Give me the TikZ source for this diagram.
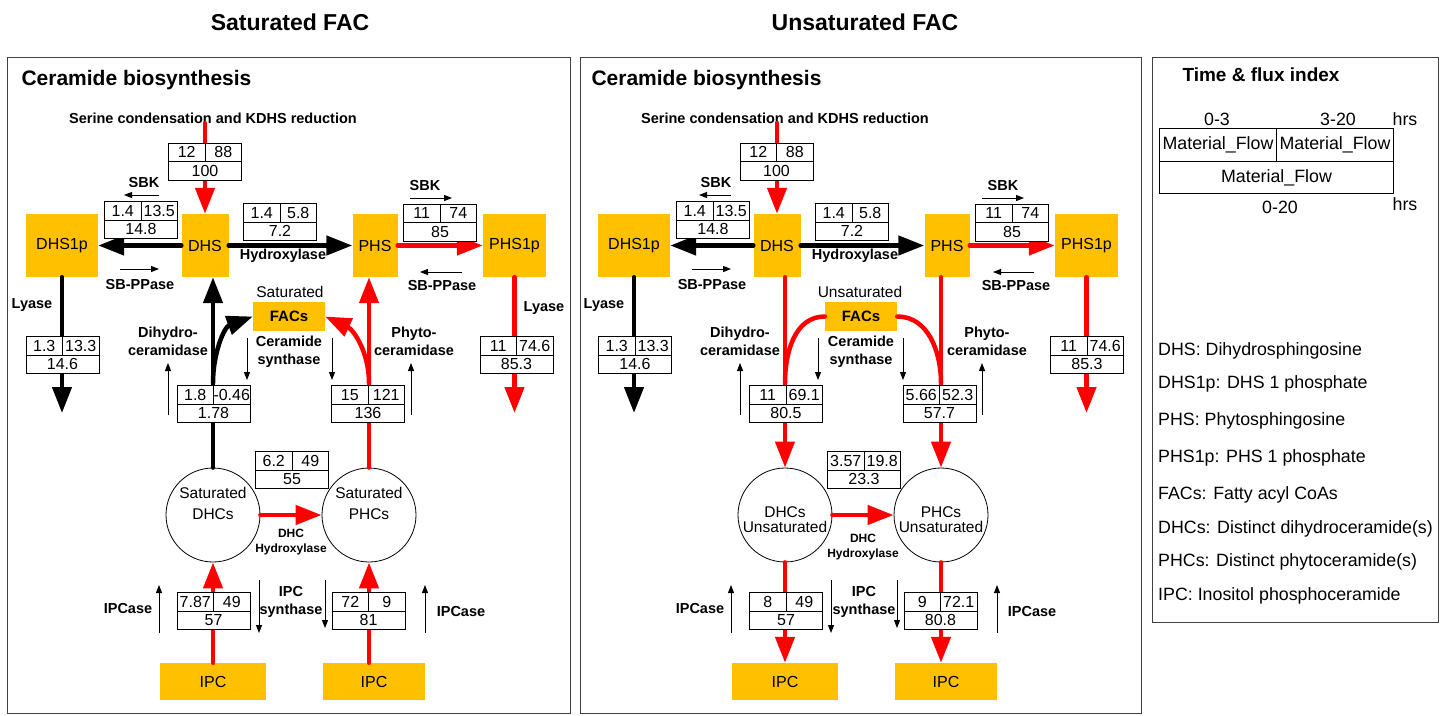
\documentclass[tikz,border=0pt]{standalone}
\usepackage{fontspec}
\setmainfont{Liberation Sans}
\usetikzlibrary{arrows.meta}
\definecolor{amber}{RGB}{255,192,0}

% flux box: name, centre x, centre y, left, right, total
\newcommand{\fluxbox}[6]{%
  \node[cell] (#1a) at ({#2-18.25},{#3-9.25}) {#4};
  \node[cell] (#1b) at ({#2+18.25},{#3-9.25}) {#5};
  \node[cell, minimum width=73pt] (#1c) at (#2,{#3+9.25}) {#6};
}

\begin{document}
\begin{tikzpicture}[x=1pt, y=-1pt,
  pool/.style={fill=amber, inner sep=0pt, font=\fontsize{16}{19}\selectfont},
  cell/.style={draw, fill=white, line width=0.8pt, minimum width=36.5pt, minimum height=18.5pt, inner sep=0pt, font=\fontsize{16}{19}\selectfont},
  lcell/.style={draw, line width=0.8pt, minimum width=117pt, minimum height=32.5pt, inner sep=0pt, font=\fontsize{17.8}{20}\selectfont},
  pot/.style={circle, draw, line width=0.8pt, minimum size=94pt, inner sep=0pt},
  lab/.style={font=\bfseries\fontsize{14.5}{18}\selectfont, align=center, inner sep=0pt},
  txt/.style={font=\fontsize{15.5}{21}\selectfont, align=center, inner sep=0pt},
  legt/.style={font=\fontsize{17.8}{20}\selectfont, inner sep=0pt},
  bigk/.style={line width=4.5pt, black, line cap=round, -{Triangle[length=26pt,width=19pt]}},
  bigr/.style={bigk, red},
  hint/.style={line width=1pt, -{Triangle[length=8pt,width=6pt]}},
  panel/.style={draw=black!75, line width=1pt}]
\useasboundingbox (0,0) rectangle (1445,715);

\node[font=\bfseries\fontsize{23}{23}\selectfont] (tSat) at (290,22) {Saturated FAC};
\node[font=\bfseries\fontsize{23}{23}\selectfont] (tUns) at (865,22) {Unsaturated FAC};
\draw[panel] (7,57) rectangle (570,713);  % saturated panel
\draw[panel] (580,57) rectangle (1141,713);  % unsaturated panel
\draw[panel] (1152,57) rectangle (1438,622);  % legend panel

% ---- saturated FAC ----
\node[font=\bfseries\fontsize{21}{21}\selectfont, anchor=west] (sHead) at (18,80) {Ceramide biosynthesis};
\node[lab] (sSer) at (213,118) {Serine condensation and KDHS reduction};
\node[pool, minimum width=72pt, minimum height=63pt] (sDHS1p) at (62,245.5) {DHS1p};
\node[pool, minimum width=47pt, minimum height=63pt] (sDHS) at (205,245.5) {DHS};
\node[pool, minimum width=45pt, minimum height=63pt] (sPHS) at (375,245.5) {PHS};
\node[pool, minimum width=63pt, minimum height=63pt] (sPHS1p) at (514.5,245.5) {PHS1p};
\node[pool, minimum width=72pt, minimum height=29pt, font=\bfseries\fontsize{15}{15}\selectfont] (sFAC) at (289,316.5) {FACs};
\node[pot] (sDHC) at (213,515) {};
\node[pot] (sPHC) at (369,515) {};
\node[txt] (sDHCt) at (213,503) {Saturated\\DHCs};
\node[txt] (sPHCt) at (369,503) {Saturated\\PHCs};
\node[pool, minimum width=106pt, minimum height=37pt] (sIPC1) at (213,681.5) {IPC};
\node[pool, minimum width=102pt, minimum height=37pt] (sIPC2) at (374,681.5) {IPC};
\coordinate (sSrc) at (205,123);
\coordinate (sLy1) at (62,413);
\coordinate (sLy2) at (514.5,413);
\coordinate (sCv1) at (213,383);
\coordinate (sCv2) at (369,383);

\draw[bigr] (sSrc) -- (sDHS.north);
\draw[bigk] (sDHS.west) -- (sDHS1p.east);
\draw[bigk] (sDHS.east) -- (sPHS.west);
\draw[bigr] (sPHS.east) -- (sPHS1p.west);
\draw[bigk] (sDHS1p.south) -- (sLy1);  % lyase
\draw[bigr] (sPHS1p.south) -- (sLy2);
\draw[bigk] (sDHC.north) -- (sDHC.north |- sDHS.south);
\draw[bigr] (sPHC.north) -- (sPHC.north |- sPHS.south);
\draw[bigk] (sCv1) to[out=90,in=200] (sFAC.west);
\draw[bigr] (sCv2) to[out=90,in=-25] (sFAC.east);
\draw[bigr] (sDHC.east) -- (sPHC.west);
\draw[bigr] (sIPC1.north) -- (sDHC.south);
\draw[bigr] (sIPC2.north -| sPHC.south) -- (sPHC.south);

\fluxbox{sF1}{205}{161.5}{12}{88}{100}
\fluxbox{sF2}{141}{220}{1.4}{13.5}{14.8}
\fluxbox{sF3}{280}{222}{1.4}{5.8}{7.2}
\fluxbox{sF4}{440}{222.5}{11}{74}{85}
\fluxbox{sF5}{62.5}{355}{1.3}{13.3}{14.6}
\fluxbox{sF6}{516.5}{355}{11}{74.6}{85.3}
\fluxbox{sF7}{213.5}{404}{1.8}{-0.46}{1.78}
\fluxbox{sF8}{368}{404}{15}{121}{136}
\fluxbox{sF9}{292}{470}{6.2}{49}{55}
\fluxbox{sF10}{213.5}{611}{7.87}{49}{57}
\fluxbox{sF11}{368.5}{611}{72}{9}{81}

\node[lab] (sSbk1) at (144,183) {SBK};
\node[lab] (sPp1) at (140,285) {SB-PPase};
\node[lab] (sSbk2) at (425,186) {SBK};
\node[lab] (sPp2) at (442,286) {SB-PPase};
\node[lab] (sHyd) at (283,256) {Hydroxylase};
\node[lab] (sLya1) at (32,305) {Lyase};
\node[lab] (sLya2) at (544,308) {Lyase};
\node[txt] (sSat) at (290,292) {Saturated};
\node[lab] (sDcd) at (168,341) {Dihydro-\\ceramidase};
\node[lab] (sCs) at (289,352) {Ceramide\\synthase};
\node[lab] (sPcd) at (414,341) {Phyto-\\ceramidase};
\node[lab, font=\bfseries\fontsize{12}{15}\selectfont] (sDhh) at (291,542) {DHC\\Hydroxylase};
\node[lab] (sIps) at (291,602) {IPC\\synthase};
\node[lab] (sIpa1) at (128,608) {IPCase};
\node[lab] (sIpa2) at (461,611) {IPCase};

\draw[hint] (159,195) -- (124,195);  % SBK
\draw[hint] (120,269) -- (159,269);  % SB-PPase
\draw[hint] (410,198) -- (452,198);
\draw[hint] (462,272) -- (420,272);
\draw[hint] (168,415) -- (168,363);  % ceramidases and synthase
\draw[hint] (247,338) -- (247,380);
\draw[hint] (332,338) -- (332,380);
\draw[hint] (411,415) -- (411,363);
\draw[hint] (159,633) -- (159,585);  % IPCase and IPC synthase
\draw[hint] (259,580) -- (259,633);
\draw[hint] (325,580) -- (325,628);
\draw[hint] (425,633) -- (425,585);

% ---- unsaturated FAC ----
\begin{scope}[xshift=572pt]
\node[font=\bfseries\fontsize{21}{21}\selectfont, anchor=west] (uHead) at (16,80) {Ceramide biosynthesis};
\node[lab] (uSer) at (213,118) {Serine condensation and KDHS reduction};
\node[pool, minimum width=72pt, minimum height=63pt] (uDHS1p) at (62,245.5) {DHS1p};
\node[pool, minimum width=47pt, minimum height=63pt] (uDHS) at (205,245.5) {DHS};
\node[pool, minimum width=45pt, minimum height=63pt] (uPHS) at (375,245.5) {PHS};
\node[pool, minimum width=63pt, minimum height=63pt] (uPHS1p) at (514.5,245.5) {PHS1p};
\node[pool, minimum width=72pt, minimum height=29pt, font=\bfseries\fontsize{15}{15}\selectfont] (uFAC) at (289,316.5) {FACs};
\node[pot] (uDHC) at (213,515) {};
\node[pot] (uPHC) at (369,515) {};
\node[txt, font=\fontsize{15.5}{15}\selectfont] (uDHCt) at (213,520) {DHCs\\Unsaturated};
\node[txt, font=\fontsize{15.5}{15}\selectfont] (uPHCt) at (369,520) {PHCs\\Unsaturated};
\node[pool, minimum width=106pt, minimum height=37pt] (uIPC1) at (213,681.5) {IPC};
\node[pool, minimum width=102pt, minimum height=37pt] (uIPC2) at (374,681.5) {IPC};
\coordinate (uSrc) at (205,123);
\coordinate (uLy1) at (62,413);
\coordinate (uLy2) at (514.5,413);
\coordinate (uCv1) at (213,383);
\coordinate (uCv2) at (369,383);

\draw[bigr] (uSrc) -- (uDHS.north);
\draw[bigk] (uDHS.west) -- (uDHS1p.east);
\draw[bigk] (uDHS.east) -- (uPHS.west);
\draw[bigr] (uPHS.east) -- (uPHS1p.west);
\draw[bigk] (uDHS1p.south) -- (uLy1);  % lyase
\draw[bigr] (uPHS1p.south) -- (uLy2);
\draw[bigr] (uDHC.north |- uDHS.south) -- (uDHC.north);
\draw[bigr] (uPHC.north |- uPHS.south) -- (uPHC.north);
\draw[bigr, -] (uFAC.west) to[out=180,in=90] (uCv1);
\draw[bigr, -] (uFAC.east) to[out=0,in=90] (uCv2);
\draw[bigr] (uDHC.east) -- (uPHC.west);
\draw[bigr] (uDHC.south) -- (uIPC1.north);
\draw[bigr] (uPHC.south) -- (uPHC.south |- uIPC2.north);

\fluxbox{uF1}{204.5}{161.5}{12}{88}{100}
\fluxbox{uF2}{141}{220}{1.4}{13.5}{14.8}
\fluxbox{uF3}{280}{222}{1.4}{5.8}{7.2}
\fluxbox{uF4}{440}{222.5}{11}{74}{85}
\fluxbox{uF5}{63}{355}{1.3}{13.3}{14.6}
\fluxbox{uF6}{515}{355}{11}{74.6}{85.3}
\fluxbox{uF7}{214}{404}{11}{69.1}{80.5}
\fluxbox{uF8}{367.5}{404}{5.66}{52.3}{57.7}
\fluxbox{uF9}{292}{470}{3.57}{19.8}{23.3}
\fluxbox{uF10}{214}{611}{8}{49}{57}
\fluxbox{uF11}{368.5}{611}{9}{72.1}{80.8}

\node[lab] (uSbk1) at (144,183) {SBK};
\node[lab] (uPp1) at (140,285) {SB-PPase};
\node[lab] (uSbk2) at (431,186) {SBK};
\node[lab] (uPp2) at (444,286) {SB-PPase};
\node[lab] (uHyd) at (283,256) {Hydroxylase};
\node[lab] (uLya1) at (32,305) {Lyase};
\node[txt] (uSat) at (288,292) {Unsaturated};
\node[lab] (uDcd) at (168,341) {Dihydro-\\ceramidase};
\node[lab] (uCs) at (289,352) {Ceramide\\synthase};
\node[lab] (uPcd) at (415,341) {Phyto-\\ceramidase};
\node[lab, font=\bfseries\fontsize{12}{15}\selectfont] (uDhh) at (291,547) {DHC\\Hydroxylase};
\node[lab] (uIps) at (292,602) {IPC\\synthase};
\node[lab] (uIpa1) at (128,608) {IPCase};
\node[lab] (uIpa2) at (460,611) {IPCase};

\draw[hint] (159,195) -- (127,195);  % SBK
\draw[hint] (120,269) -- (159,269);  % SB-PPase
\draw[hint] (410,198) -- (452,198);
\draw[hint] (462,272) -- (421,272);
\draw[hint] (168,415) -- (168,363);  % ceramidases and synthase
\draw[hint] (246,338) -- (246,380);
\draw[hint] (331,338) -- (331,380);
\draw[hint] (410,415) -- (410,363);
\draw[hint] (159,633) -- (159,585);  % IPCase and IPC synthase
\draw[hint] (259,580) -- (259,633);
\draw[hint] (325,580) -- (325,628);
\draw[hint] (425,633) -- (425,585);
\end{scope}

% ---- legend ----
\node[font=\bfseries\fontsize{19}{19}\selectfont] (lgHead) at (1261,75) {Time \& flux index};
\node[legt] (lg03) at (1217,119) {0-3};
\node[legt] (lg320) at (1338,119) {3-20};
\node[legt] (lgHrs1) at (1405,119) {hrs};
\node[lcell] (lgA) at (1218,145) {Material\_Flow};
\node[lcell] (lgB) at (1335,145) {Material\_Flow};
\node[lcell, minimum width=234pt] (lgC) at (1276.5,177.5) {Material\_Flow};
\node[legt] (lg020) at (1280,207) {0-20};
\node[legt] (lgHrs2) at (1405,204) {hrs};
\node[legt, anchor=west] (lg1) at (1158,351) {DHS: Dihydrosphingosine};
\node[legt, anchor=west] (lg2) at (1158,384) {DHS1p: DHS 1 phosphate};
\node[legt, anchor=west] (lg3) at (1158,421) {PHS: Phytosphingosine};
\node[legt, anchor=west] (lg4) at (1158,458) {PHS1p: PHS 1 phosphate};
\node[legt, anchor=west] (lg5) at (1158,495) {FACs: Fatty acyl CoAs};
\node[legt, anchor=west] (lg6) at (1158,529) {DHCs: Distinct dihydroceramide(s)};
\node[legt, anchor=west] (lg7) at (1158,562) {PHCs: Distinct phytoceramide(s)};
\node[legt, anchor=west] (lg8) at (1158,596) {IPC: Inositol phosphoceramide};
\end{tikzpicture}
\end{document}
